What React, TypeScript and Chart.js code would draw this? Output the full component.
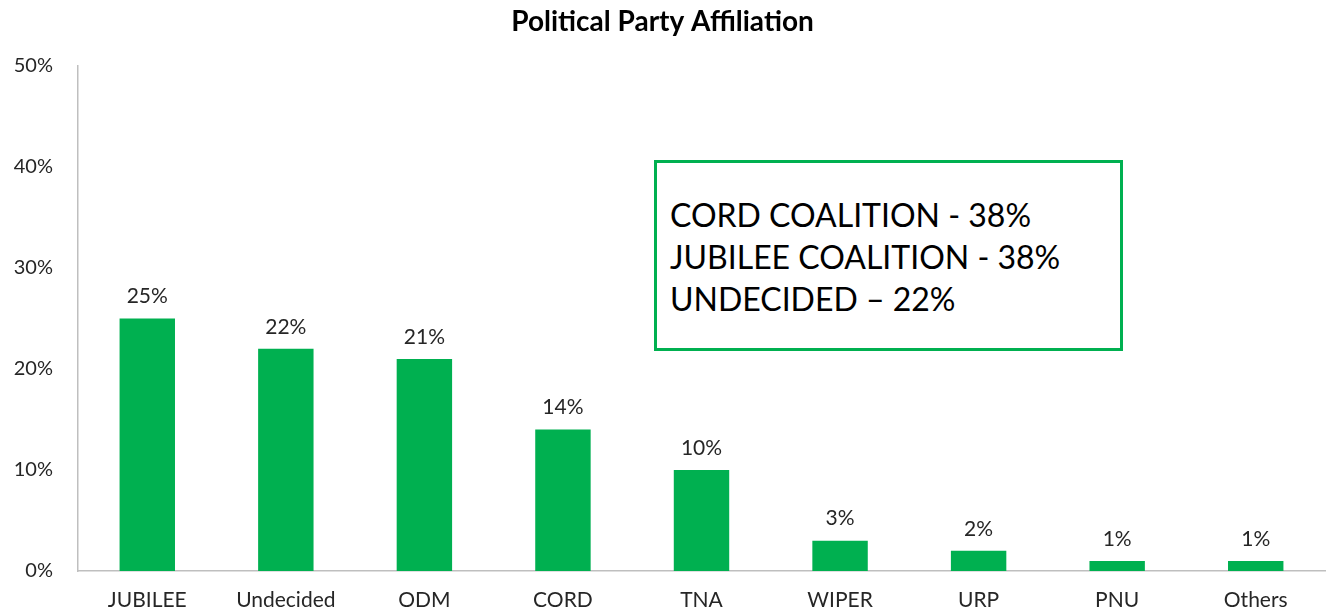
import React, { useEffect, useRef } from "react";
import { Chart, registerables } from "chart.js";

Chart.register(...registerables);

const categories = ["JUBILEE", "Undecided", "ODM", "CORD", "TNA", "WIPER", "URP", "PNU", "Others"];
const values = [25, 22, 21, 14, 10, 3, 2, 1, 1];
const yTicks = [0, 10, 20, 30, 40, 50];
const boxLines = ["CORD COALITION - 38%", "JUBILEE COALITION - 38%", "UNDECIDED \u2013 22%"];
const title = "Political Party Affiliation";

const GREEN = "#00b050";
const FONT = "Lato, 'Open Sans', sans-serif";

const valueLabels = {
  id: "valueLabels",
  afterDatasetsDraw(chart: any) {
    const ctx = chart.ctx;
    const meta = chart.getDatasetMeta(0);
    ctx.save();
    ctx.font = `21px ${FONT}`;
    ctx.fillStyle = "#262626";
    ctx.textAlign = "center";
    ctx.textBaseline = "middle";
    meta.data.forEach((bar: any, i: number) => {
      ctx.fillText(values[i] + "%", bar.x, bar.y - 22);
    });
    ctx.restore();
  },
};

export default function App() {
  const ref = useRef<HTMLCanvasElement | null>(null);
  useEffect(() => {
    if (!ref.current) return;
    const chart = new Chart(ref.current, {
      type: "bar",
      data: {
        labels: categories,
        datasets: [
          {
            data: values,
            backgroundColor: GREEN,
            barPercentage: 0.4,
            categoryPercentage: 1,
          },
        ],
      },
      options: {
        animation: false,
        responsive: false,
        layout: { padding: { left: 0, right: 2, top: 0, bottom: 2 } },
        plugins: {
          legend: { display: false },
          tooltip: { enabled: false },
          title: {
            display: true,
            text: title,
            color: "#000",
            font: { family: FONT, size: 28, weight: "bold", lineHeight: 1.2 },
            padding: { top: 5.2, bottom: 27.2 },
          },
        },
        scales: {
          x: {
            afterFit: (scale: any) => {
              scale.height = 41;
            },
            grid: { display: false, drawTicks: false },
            border: { display: true, color: "#bfbfbf", width: 1.5 },
            ticks: { color: "#262626", font: { family: FONT, size: 21 }, padding: 17 },
          },
          y: {
            min: 0,
            max: 50,
            afterBuildTicks: (scale: any) => {
              scale.ticks = yTicks.map((v) => ({ value: v }));
            },
            afterFit: (scale: any) => {
              scale.width = 78;
            },
            grid: { display: false, drawTicks: false },
            border: { display: true, color: "#bfbfbf", width: 1.5 },
            ticks: {
              color: "#262626",
              font: { family: FONT, size: 20 },
              padding: 25,
              callback: (v: any) => v + "%",
            },
          },
        },
      },
      plugins: [valueLabels],
    });
    return () => chart.destroy();
  }, []);

  return (
    <div style={{ position: "fixed", left: 0, top: 0, width: 1327, height: 614, background: "#fff" }}>
      <canvas ref={ref} width={1327} height={614} style={{ display: "block" }} />
      <div
        style={{
          position: "absolute",
          left: 654,
          top: 160,
          width: 469,
          height: 191,
          boxSizing: "border-box",
          border: `3px solid ${GREEN}`,
          background: "#fff",
          paddingLeft: 13,
          paddingTop: 31,
          fontFamily: FONT,
          fontSize: 32,
          lineHeight: "42px",
          color: "#000",
        }}
      >
        {boxLines.map((l, i) => (
          <div key={i} style={{ whiteSpace: "nowrap" }}>{l}</div>
        ))}
      </div>
    </div>
  );
}
